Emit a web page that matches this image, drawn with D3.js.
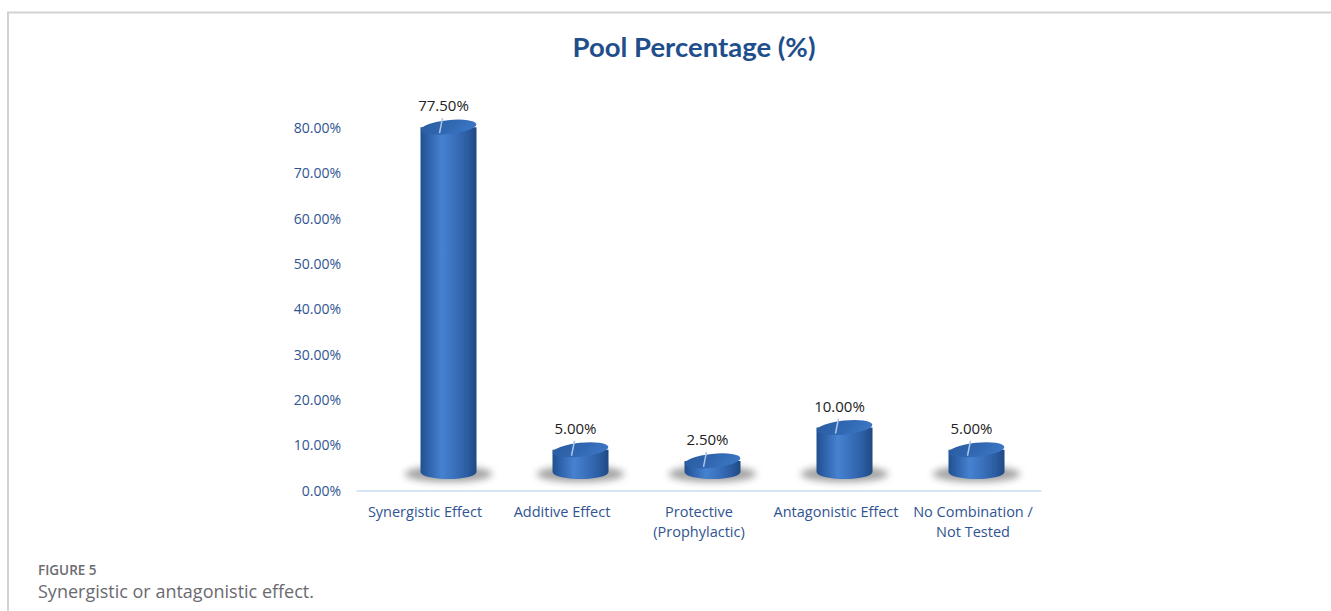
<!DOCTYPE html>
<html>
<head>
<meta charset="utf-8">
<script src="https://cdn.jsdelivr.net/npm/d3@7"></script>
<style>
  html, body { margin: 0; padding: 0; background: #fff; }
  svg { display: block; }
</style>
</head>
<body>
<svg id="chart" width="1331" height="611"></svg>
<script>
// ---- data ----
const categories = ["Synergistic Effect", "Additive Effect", "Protective (Prophylactic)", "Antagonistic Effect", "No Combination / Not Tested"];
const categoryLines = [["Synergistic Effect"], ["Additive Effect"], ["Protective", "(Prophylactic)"], ["Antagonistic Effect"], ["No Combination /", "Not Tested"]];
const values = [77.5, 5.0, 2.5, 10.0, 5.0];
const yTicks = [0, 10, 20, 30, 40, 50, 60, 70, 80];
const title = "Pool Percentage (%)";
const figureLabel = "FIGURE 5";
const figureCaption = "Synergistic or antagonistic effect.";

const svg = d3.select("#chart");
const defs = svg.append("defs");

// frame lines
svg.append("line").attr("x1", 7).attr("x2", 1331).attr("y1", 12.5).attr("y2", 12.5)
  .attr("stroke", "#d2d2d2").attr("stroke-width", 2);
svg.append("line").attr("x1", 8).attr("x2", 8).attr("y1", 12).attr("y2", 611)
  .attr("stroke", "#d2d2d2").attr("stroke-width", 2);

// scales
const y = d3.scaleLinear().domain([0, 80]).range([490.5, 128]);
const x = d3.scaleBand().domain(categories).range([356.5, 1041.5]).padding(0);
// 3D projected positions of the cylinders (Excel-style perspective)
const xBar = d3.scaleBand().domain(categories).range([382.5, 1042.5]).padding(0);
const yBar = d3.scaleLinear().domain([0, 80]).range([472, 116]);

// gradients
const bodyGrad = defs.append("linearGradient").attr("id", "body").attr("x1", "0").attr("x2", "1").attr("y1", "0").attr("y2", "0");
[["0%", "#22508f"], ["12%", "#2c5fa6"], ["38%", "#4682d0"], ["58%", "#3b73c0"], ["85%", "#2b5b9f"], ["100%", "#1f4881"]]
  .forEach(s => bodyGrad.append("stop").attr("offset", s[0]).attr("stop-color", s[1]));
const topGrad = defs.append("linearGradient").attr("id", "top").attr("x1", "0").attr("x2", "1").attr("y1", "0").attr("y2", "0.3");
[["0%", "#2a5b9f"], ["60%", "#3168b2"], ["100%", "#3a74c2"]]
  .forEach(s => topGrad.append("stop").attr("offset", s[0]).attr("stop-color", s[1]));
const blur = defs.append("filter").attr("id", "blur").attr("x", "-50%").attr("y", "-100%").attr("width", "200%").attr("height", "300%");
blur.append("feGaussianBlur").attr("stdDeviation", 3.5);

// title
svg.append("text").attr("x", 694).attr("y", 57).attr("text-anchor", "middle")
  .attr("font-family", "Lato, 'Open Sans', sans-serif").attr("font-weight", "bold").attr("font-size", 27.5)
  .attr("fill", "#1f4e8c").text(title);

// y axis labels
svg.append("g").selectAll("text").data(yTicks).join("text")
  .attr("x", 341).attr("y", d => y(d) + 5).attr("text-anchor", "end")
  .attr("font-family", "'Open Sans', Lato, sans-serif").attr("font-size", 14)
  .attr("fill", "#2f5491").text(d => d3.format(".2f")(d) + "%");

// axis line
svg.append("line").attr("x1", x.range()[0]).attr("x2", x.range()[1]).attr("y1", y(0) + 0.5).attr("y2", y(0) + 0.5)
  .attr("stroke", "#d7e4f4").attr("stroke-width", 2);

// category labels
const catG = svg.append("g");
categories.forEach((c, i) => {
  const t = catG.append("text").attr("x", x(c) + x.bandwidth() / 2).attr("y", 517)
    .attr("text-anchor", "middle").attr("font-family", "'Open Sans', Lato, sans-serif")
    .attr("font-size", 14.5).attr("fill", "#2f5491");
  categoryLines[i].forEach((ln, j) => {
    t.append("tspan").attr("x", x(c) + x.bandwidth() / 2).attr("dy", j === 0 ? 0 : 20).text(ln);
  });
});

// cylinders
const rx = 28, ry = 7;
const bars = svg.append("g");
categories.forEach((c, i) => {
  const cx = xBar(c) + xBar.bandwidth() / 2;
  const yb = yBar(0), yt = yBar(values[i]);
  const g = bars.append("g");
  // shadow
  g.append("ellipse").attr("cx", cx).attr("cy", yb + 2).attr("rx", rx + 16).attr("ry", ry + 1)
    .attr("fill", "#7d7d7d").attr("opacity", 0.7).attr("filter", "url(#blur)");
  // body
  g.append("path")
    .attr("d", `M${cx - rx},${yt} L${cx - rx},${yb} A${rx},${ry} 0 0 0 ${cx + rx},${yb} L${cx + rx},${yt} Z`)
    .attr("fill", "url(#body)");
  // top ellipse
  g.append("ellipse").attr("cx", cx).attr("cy", yt).attr("rx", rx).attr("ry", ry)
    .attr("fill", "url(#top)").attr("transform", `rotate(-6,${cx},${yt})`);
  // leader line
  g.append("line").attr("x1", cx - 6).attr("y1", yt - 9).attr("x2", cx - 9).attr("y2", yt + 6)
    .attr("stroke", "#aac6ec").attr("stroke-width", 1.5);
  // value label
  g.append("text").attr("x", cx - 5).attr("y", yt - 16).attr("text-anchor", "middle")
    .attr("font-family", "'Open Sans', Lato, sans-serif").attr("font-size", 15)
    .attr("fill", "#222").text(d3.format(".2f")(values[i]) + "%");
});

// caption
svg.append("text").attr("x", 38).attr("y", 575).attr("font-family", "'Open Sans', sans-serif")
  .attr("font-size", 13.5).attr("font-weight", 600).attr("fill", "#6b6b70").text(figureLabel);
svg.append("text").attr("x", 38).attr("y", 598).attr("font-family", "'Open Sans', sans-serif")
  .attr("font-size", 18).attr("fill", "#6a6a70").text(figureCaption);
</script>
</body>
</html>
